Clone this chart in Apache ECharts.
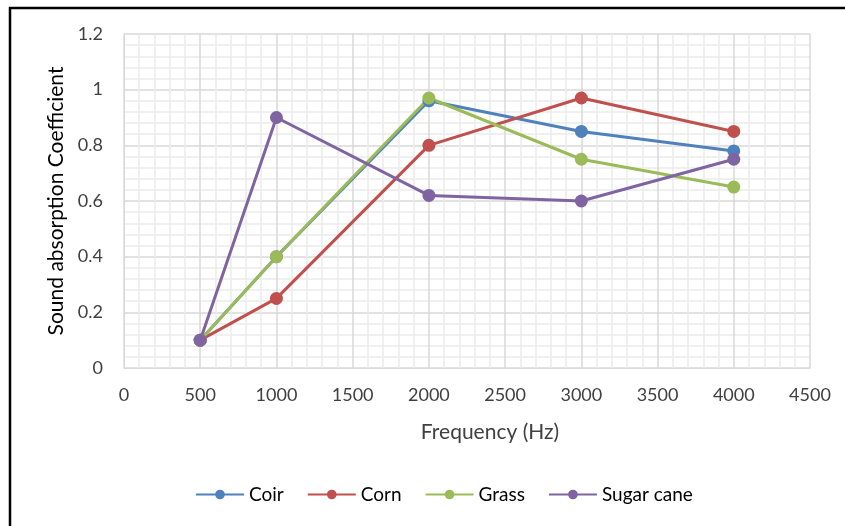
<!DOCTYPE html>
<html>
<head>
<meta charset="utf-8">
<script src="https://cdn.jsdelivr.net/npm/echarts@6/dist/echarts.min.js"></script>
<style>
html,body{margin:0;padding:0;background:#fff;}
#c{width:845px;height:526px;}
</style>
</head>
<body>
<div id="c"></div>
<script>
const frequencies = [500, 1000, 2000, 3000, 4000];
const coir = [0.10, 0.40, 0.96, 0.85, 0.78];
const corn = [0.10, 0.25, 0.80, 0.97, 0.85];
const grass = [0.10, 0.40, 0.97, 0.75, 0.65];
const sugarCane = [0.10, 0.90, 0.62, 0.60, 0.75];
const seriesNames = ['Coir', 'Corn', 'Grass', 'Sugar cane'];
const seriesValues = [coir, corn, grass, sugarCane];
const colors = ['#4F81BD', '#C0504D', '#9BBB59', '#8064A2'];

const font = 'Lato, "Open Sans", sans-serif';
const chart = echarts.init(document.getElementById('c'));
chart.setOption({
  animation: false,
  backgroundColor: '#fff',
  color: colors,
  graphic: [{
    type: 'rect',
    shape: {x: 10, y: 8, width: 900, height: 600},
    style: {fill: 'none', stroke: '#000', lineWidth: 2.5},
    silent: true, z: -1
  }],
  grid: {left: 124, right: 35, top: 34, bottom: 158, containLabel: false},
  xAxis: {
    type: 'value', min: 0, max: 4500, interval: 500,
    name: 'Frequency (Hz)', nameLocation: 'middle', nameGap: 54,
    nameTextStyle: {fontFamily: font, fontSize: 21, color: '#404040', padding: [0, 0, 0, 46]},
    axisLine: {show: true, lineStyle: {color: '#d9d9d9', width: 1}},
    axisTick: {show: false},
    axisLabel: {fontFamily: font, fontSize: 18, color: '#404040', margin: 18,
      formatter: v => String(v)},
    splitLine: {show: true, lineStyle: {color: '#d9d9d9', width: 1.5}},
    minorTick: {show: false, splitNumber: 5},
    minorSplitLine: {show: true, lineStyle: {color: '#ececec', width: 1.5}}
  },
  yAxis: {
    type: 'value', min: 0, max: 1.2, interval: 0.2,
    name: 'Sound absorption Coefficient', nameLocation: 'middle', nameGap: 52,
    nameTextStyle: {fontFamily: font, fontSize: 21, color: '#000'},
    axisLine: {show: true, lineStyle: {color: '#d9d9d9', width: 1}},
    axisTick: {show: false},
    axisLabel: {fontFamily: font, fontSize: 18, color: '#404040', margin: 21,
      formatter: v => String(Math.round(v * 10) / 10)},
    splitLine: {show: true, lineStyle: {color: '#d9d9d9', width: 1.5}},
    minorTick: {show: false, splitNumber: 5},
    minorSplitLine: {show: true, lineStyle: {color: '#ececec', width: 1.5}}
  },
  legend: {
    bottom: 17, left: 190, itemGap: 23, itemWidth: 48, itemHeight: 12,
    textStyle: {fontFamily: font, fontSize: 19, color: '#000'},
    data: seriesNames
  },
  series: seriesNames.map((n, i) => ({
    name: n, type: 'line',
    data: frequencies.map((f, j) => [f, seriesValues[i][j]]),
    symbol: 'circle', symbolSize: 13,
    lineStyle: {width: 3, color: colors[i]},
    itemStyle: {color: colors[i]}
  }))
});
</script>
</body>
</html>
